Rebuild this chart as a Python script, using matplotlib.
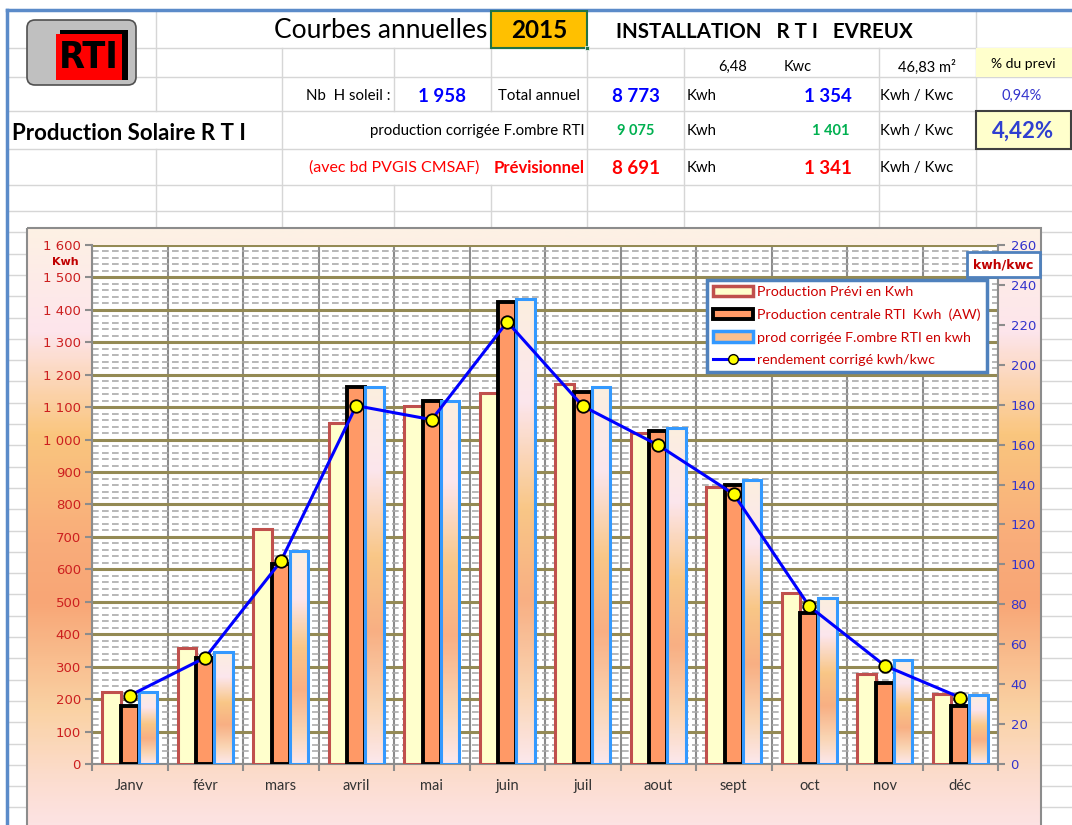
import numpy as np
import matplotlib
matplotlib.use('Agg')
import matplotlib.pyplot as plt
from matplotlib.patches import Rectangle, FancyBboxPatch, Patch
from matplotlib.lines import Line2D
from matplotlib.colors import LinearSegmentedColormap
from matplotlib.ticker import FixedLocator, NullFormatter, MultipleLocator

# ---------------- data ----------------
months = ['Janv', 'févr', 'mars', 'avril', 'mai', 'juin', 'juil', 'aout', 'sept', 'oct', 'nov', 'déc']
prevision = [223, 358, 724, 1052, 1103, 1144, 1170, 1019, 855, 526, 277, 215]
production = [180, 328, 618, 1163, 1120, 1425, 1147, 1026, 860, 466, 249, 179]
corrigee = [222, 345, 656, 1163, 1120, 1435, 1161, 1036, 875, 511, 320, 213]
rendement = [34.3, 53.3, 101.5, 179.5, 172.5, 221.5, 179.3, 159.7, 135.2, 79.0, 49.3, 33.3]
left_ticks = list(range(0, 1601, 100))
right_ticks = list(range(0, 261, 20))
legend_labels = ['Production Prévi en Kwh',
                 'Production centrale RTI  Kwh  (AW)',
                 'prod corrigée F.ombre RTI en kwh',
                 'rendement corrigé kwh/kwc']

W, H = 1072, 825
fig = plt.figure(figsize=(W / 100, H / 100), dpi=100)
fig.patch.set_facecolor('white')

# ---------------- background (spreadsheet) in pixel coordinates ----------------
bg = fig.add_axes([0, 0, 1, 1])
bg.set_axis_off()

grid_c = '#D6D6D6'
row_lines = [48, 77, 111, 149, 185, 211] + list(np.arange(232.3, 826, 21.3))
for y in row_lines:
    bg.plot([8, W], [y, y], color=grid_c, lw=1, zorder=1)

vsegs = {156: [(10, 111), (149, 228)],
         282: [(48, 228)],
         394: [(48, 111), (185, 228)],
         491: [(48, 111), (185, 228)],
         587: [(48, 228)],
         684: [(48, 228)],
         879: [(48, 228)],
         976: [(10, 228)]}
for x, segs in vsegs.items():
    for y0, y1 in segs:
        bg.plot([x, x], [y0, y1], color=grid_c, lw=1, zorder=1)

# blue sheet frame
bg.plot([7, W], [10, 10], color='#5B8BC9', lw=2.5, zorder=2)
bg.plot([7, 7], [10, H], color='#5B8BC9', lw=2.5, zorder=2)

# yellow 2015 cell
bg.add_patch(Rectangle((491, 11), 96, 37, facecolor='#FFC000', edgecolor='#217346', lw=1.5, zorder=2))
bg.add_patch(Rectangle((585, 46), 4, 4, facecolor='#217346', edgecolor='white', lw=0.5, zorder=3))
# % du previ cells
bg.add_patch(Rectangle((976, 48), 96, 29, facecolor='#FFFFCC', edgecolor='none', zorder=1.5))
bg.add_patch(Rectangle((976, 111), 95, 38, facecolor='#FFFFCC', edgecolor='#404040', lw=1.5, zorder=2))

# logo
bg.add_patch(FancyBboxPatch((27, 20), 109, 65, boxstyle='round,pad=0,rounding_size=8',
                            facecolor='#C0C0C0', edgecolor='#505050', lw=1.2, zorder=2))
bg.add_patch(Rectangle((60, 30), 68, 50, facecolor='black', zorder=3))
bg.add_patch(Rectangle((56, 34), 66, 46, facecolor='#FF0000', zorder=4))
bg.text(89, 58, 'RTI', family='DejaVu Sans', weight='bold', fontsize=27, color='black',
        ha='center', va='center', zorder=5, stretch='condensed')

hf = 'Lato'
sm = 10.8

def T(x, y, s, **kw):
    kw.setdefault('family', hf)
    kw.setdefault('va', 'center')
    kw.setdefault('zorder', 6)
    bg.text(x, y, s, **kw)

T(487, 31, 'Courbes annuelles', fontsize=19, ha='right', color='black')
T(539, 31, '2015', fontsize=17.5, weight='bold', ha='center', color='black')
T(616, 32, 'INSTALLATION   R T I   EVREUX', fontsize=14.8, weight='bold', ha='left', color='black')

T(747, 67, '6,48', fontsize=10.5, ha='right')
T(784, 67, 'Kwc', fontsize=10.5, ha='left')
T(956, 67, '46,83 m²', fontsize=10.5, ha='right')
T(1023, 64, '% du previ', fontsize=10, ha='center')

T(391, 96, 'Nb  H soleil :', fontsize=sm, ha='right')
T(442, 96, '1 958', fontsize=13.5, weight='bold', ha='center', color='#0000FF')
T(539, 96, 'Total annuel', fontsize=sm, ha='center')
T(636, 96, '8 773', fontsize=13.5, weight='bold', ha='center', color='#0000FF')
T(687, 96, 'Kwh', fontsize=sm, ha='left')
T(852, 96, '1 354', fontsize=13.5, weight='bold', ha='right', color='#0000FF')
T(880, 96, 'Kwh / Kwc', fontsize=sm, ha='left')
T(1022, 96, '0,94%', fontsize=10.5, ha='center', color='#3333CC')

T(12, 133, 'Production Solaire R T I', fontsize=16, weight='bold', ha='left')
T(585, 131, 'production corrigée F.ombre RTI', fontsize=sm, ha='right')
T(636, 131, '9 075', fontsize=10.5, weight='bold', ha='center', color='#00B050')
T(687, 131, 'Kwh', fontsize=sm, ha='left')
T(849, 131, '1 401', fontsize=10.5, weight='bold', ha='right', color='#00B050')
T(880, 131, 'Kwh / Kwc', fontsize=sm, ha='left')
T(1023, 131, '4,42%', fontsize=16, weight='bold', ha='center', color='#2F3FD0')

T(479, 168, '(avec bd PVGIS CMSAF)', fontsize=11.5, ha='right', color='#FF0000')
T(585, 168, 'Prévisionnel', fontsize=12, weight='bold', ha='right', color='#FF0000')
T(636, 168, '8 691', fontsize=13.5, weight='bold', ha='center', color='#FF0000')
T(687, 168, 'Kwh', fontsize=sm, ha='left')
T(852, 168, '1 341', fontsize=13.5, weight='bold', ha='right', color='#FF0000')
T(880, 168, 'Kwh / Kwc', fontsize=sm, ha='left')

# chart area gradient
chart_stops = [(0.0, '#FDF1E4'), (0.17, '#FDE5EC'), (0.34, '#FAC67E'), (0.52, '#F9AC7A'),
               (0.62, '#F8A676'), (0.80, '#FAD2A4'), (0.92, '#FCDDD0'), (1.0, '#FDE4E6')]
cmap_chart = LinearSegmentedColormap.from_list('chart', chart_stops)
grad = cmap_chart(np.linspace(0, 1, 300)).reshape(300, 1, 4)
bg.imshow(grad, extent=(27, 1041, 832, 228), aspect='auto', origin='upper', zorder=3,
          interpolation='bilinear')
bg.add_patch(Rectangle((27, 228), 1014, 604, facecolor='none', edgecolor='#8C8C8C', lw=1.5, zorder=4))

bg.text(65, 262, 'Kwh', family='DejaVu Sans', weight='bold', fontsize=8, color='#C00000',
        ha='center', va='center', zorder=6)

bg.set_xlim(0, W)
bg.set_ylim(H, 0)

# ---------------- plot axes ----------------
L, R, TOP, BOT = 92, 998, 245, 764
ax = fig.add_axes([L / W, 1 - BOT / H, (R - L) / W, (BOT - TOP) / H])
ax.set_facecolor('white')
x = np.arange(len(months))
w = 0.245

ax.set_axisbelow(True)
ax.yaxis.set_major_locator(FixedLocator(left_ticks))
ax.yaxis.set_minor_locator(MultipleLocator(20))
ax.grid(which='minor', axis='y', color='#ABABAB', lw=1.2, ls=(0, (4, 2)))
ax.grid(which='major', axis='y', color='#948A54', lw=2.2)
ax.set_xticks(np.arange(-0.5, 12, 1))
ax.set_xticks(x, minor=True)
ax.grid(which='major', axis='x', color='#8C8C8C', lw=1.5)
ax.xaxis.set_major_formatter(NullFormatter())
ax.set_xticklabels(months, minor=True)

ax.bar(x - w, prevision, w, color='#FFFFCC', edgecolor='#C0504D', linewidth=2.2, zorder=3)
ax.bar(x, production, w, color='#FF9966', edgecolor='black', linewidth=2.8, zorder=3.2)

bar_stops = [(0.0, '#FBEEDD'), (0.22, '#FCE4EC'), (0.45, '#F9C27C'), (0.65, '#F8A878'),
             (0.85, '#FAD2AE'), (1.0, '#FCE6EA')]
cmap_bar = LinearSegmentedColormap.from_list('bar', bar_stops)
bgrad = cmap_bar(np.linspace(0, 1, 200)).reshape(200, 1, 4)
cbars = ax.bar(x + w, corrigee, w, color='white', edgecolor='none', linewidth=0, zorder=3.4)
for rect in cbars:
    x0 = rect.get_x()
    im = ax.imshow(bgrad, extent=(x0, x0 + rect.get_width(), 0, rect.get_height()),
                   aspect='auto', origin='upper', zorder=3.5, alpha=0.92, interpolation='bilinear')
    im.set_clip_path(rect)
ax.bar(x + w, corrigee, w, fill=False, edgecolor='#3399FF', linewidth=2.2, zorder=3.6)

ax.set_xlim(-0.5, 11.5)
ax.set_ylim(0, 1600)
ax.set_aspect('auto')

for s in ['left', 'right', 'bottom']:
    ax.spines[s].set_color('#8C8C8C')
    ax.spines[s].set_linewidth(1.5)
ax.spines['top'].set_visible(False)

ax.tick_params(axis='y', which='major', direction='out', length=5, width=1.5, color='#8C8C8C',
               labelsize=9.5, labelcolor='#CC1F1F', pad=3)
ax.tick_params(axis='y', which='minor', length=0)
ax.tick_params(axis='x', which='major', direction='out', length=5, width=1.5, color='#8C8C8C')
ax.tick_params(axis='x', which='minor', length=0, pad=11, labelsize=10.5, labelcolor='#333333')
ax.set_yticklabels([f'{v:,}'.replace(',', ' ') for v in left_ticks], family='DejaVu Sans')
for lab in ax.get_xticklabels(minor=True):
    lab.set_family('Lato')

ax2 = ax.twinx()
ax2.plot(x, rendement, color='#0000FF', lw=2.2, marker='o', ms=9, mfc='#FFFF00',
         mec='black', mew=1.3, zorder=5)
ax2.set_ylim(0, 260)
ax2.yaxis.set_major_locator(FixedLocator(right_ticks))
ax2.tick_params(axis='y', direction='out', length=5, width=1.5, color='#8C8C8C',
                labelsize=9.5, labelcolor='#3333CC', pad=4)
for s in ['left', 'right', 'bottom', 'top']:
    ax2.spines[s].set_visible(False)
for lab in ax2.get_yticklabels():
    lab.set_family('DejaVu Sans')

# kwh/kwc box
fig.patches.append(Rectangle((967 / W, 1 - 277 / H), 73 / W, 25 / H, transform=fig.transFigure,
                             facecolor='white', edgecolor='#4F81BD', lw=2, zorder=10))
fig.text(1003.5 / W, 1 - 265 / H, 'kwh/kwc', family='DejaVu Sans', weight='bold', fontsize=9,
         color='#C00000', ha='center', va='center', zorder=11)

# legend
handles = [Patch(facecolor='#FFFFCC', edgecolor='#C0504D', linewidth=2.5),
           Patch(facecolor='#FF9966', edgecolor='black', linewidth=2.8),
           Patch(facecolor='#FAC08F', edgecolor='#3399FF', linewidth=2.5),
           Line2D([0], [0], color='#0000FF', lw=2.2, marker='o', ms=7, mfc='#FFFF00', mec='black')]
leg = ax2.legend(handles, legend_labels, loc='upper left',
                 bbox_to_anchor=(707 / W, 1 - 280 / H), bbox_transform=fig.transFigure,
                 prop={'family': 'Lato', 'size': 10.3}, labelcolor='#CC0000',
                 frameon=True, fancybox=False, framealpha=1, edgecolor='#4F81BD',
                 handlelength=2.8, handleheight=0.75, handletextpad=0.3,
                 labelspacing=0.72, borderpad=0.42, borderaxespad=0)
leg.get_frame().set_linewidth(2.5)
leg.set_zorder(20)

fig.savefig('out.png', dpi=100)
